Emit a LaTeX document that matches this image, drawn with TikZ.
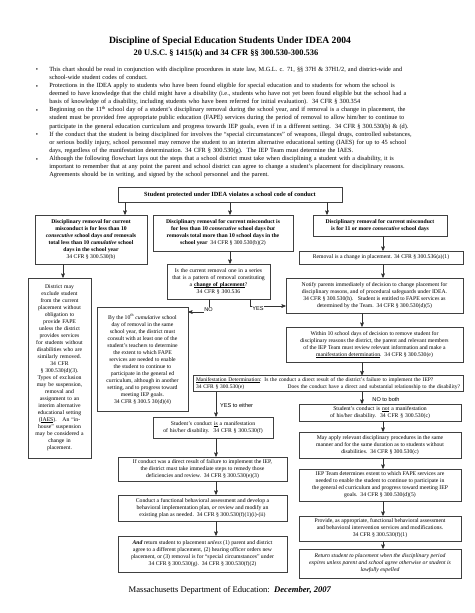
\documentclass[tikz,border=0pt]{standalone}
\usepackage{fontspec}
\setmainfont{Liberation Serif}
\newfontfamily\lblfont{Liberation Sans}
\usetikzlibrary{arrows}
\newcommand{\boxfont}{\fontsize{5.7}{7}\selectfont}
\newsavebox{\ulbox}
\newcommand{\ulin}[1]{\sbox{\ulbox}{#1}\rlap{\rule[-1.1pt]{\wd\ulbox}{0.4pt}}\usebox{\ulbox}}
\tikzset{
bx/.style={
  draw=black!75,
  line width=0.6pt,
  inner sep=0.5pt,
  align=center,
  font=\boxfont,
  fill=white
  },
lbl/.style={
  font=\lblfont\fontsize{5.6}{6}\selectfont,
  inner sep=0.8pt,
  fill=white
  }
}

\begin{document}
\begin{tikzpicture}[x=1pt,y=-1pt,->,>=stealth',line width=0.6pt,draw=black!80]
\useasboundingbox (0,0) rectangle (474,613);
% title and notes
\node (title) at (230,41) {\fontsize{9.6}{11}\selectfont\bfseries Discipline of Special Education Students Under IDEA 2004};
\node (subtitle) at (226,53) {\fontsize{8.4}{10}\selectfont\bfseries 20 U.S.C. § 1415(k) and 34 CFR §§ 300.530-300.536};
\node[anchor=north west,inner sep=0pt,text width=420pt,align=left,font=\fontsize{6.3}{8.12}\selectfont] (notes) at (49,66.5) {%
This chart should be read in conjunction with discipline procedures in state law, M.G.L. c. 71, §§ 37H \& 37H1/2, and district-wide and\\
school-wide student codes of conduct.\\
Protections in the IDEA apply to students who have been found eligible for special education and to students for whom the school is\\
deemed to have knowledge that the child might have a disability (i.e., students who have not yet been found eligible but the school had a\\
basis of knowledge of a disability, including students who have been referred for initial evaluation).\ \ 34 CFR § 300.354\\
Beginning on the 11\textsuperscript{th} school day of a student’s disciplinary removal during the school year, and if removal is a change in placement, the\\
student must be provided free appropriate public education (FAPE) services during the period of removal to allow him/her to continue to\\
participate in the general education curriculum and progress towards IEP goals, even if in a different setting.\ \ 34 CFR § 300.530(b) \& (d).\\
If the conduct that the student is being disciplined for involves the “special circumstances” of weapons, illegal drugs, controlled substances,\\
or serious bodily injury, school personnel may remove the student to an interim alternative educational setting (IAES) for up to 45 school\\
days, regardless of the manifestation determination. 34 CFR § 300.530(g).\ \ The IEP Team must determine the IAES.\\
Although the following flowchart lays out the steps that a school district must take when disciplining a student with a disability, it is\\
important to remember that at any point the parent and school district can agree to change a student’s placement for disciplinary reasons.\\
Agreements should be in writing, and signed by the school personnel and the parent.};
\foreach \i in {0,2,5,8,11}
  \node[font=\fontsize{6.3}{8}\selectfont] at (37,70.5+8.12*\i) {\textbullet};

% first row
\node[bx,minimum width=224pt,minimum height=15pt,font=\fontsize{6.3}{7}\selectfont\bfseries] (viol) at (230,194.5) {Student protected under IDEA violates a school code of conduct};
\node[bx,minimum width=112pt,minimum height=49pt,font=\boxfont\bfseries] (lessten) at (91,239.5) {Disciplinary removal for current\\ misconduct is for less than 10\\ \textit{consecutive} school days \textit{and} removals\\ total less than 10 \textit{cumulative} school\\ days in the school year\\ \mdseries 34 CFR § 300.530(b)};
\node[bx,minimum width=140pt,minimum height=36pt,font=\boxfont\bfseries] (moreten) at (223,233) {Disciplinary removal for current misconduct is\\ for less than 10 \textit{consecutive} school days \textit{but}\\ removals total more than 10 school days in the\\ school year\ \ {\mdseries 34 CFR § 300.530(b)(2)}};
\node[bx,minimum width=134pt,minimum height=21pt,font=\boxfont\bfseries] (eleven) at (380,225.5) {Disciplinary removal for current misconduct\\ is for 11 or more \textit{consecutive} school days};

% middle part
\node[bx,minimum width=164pt,minimum height=13pt] (change) at (381,257.5) {Removal is a change in placement. 34 CFR § 300.536(a)(1)};
\node[bx,text width=102pt,minimum height=35pt] (series) at (218.5,281.5) {Is the current removal one in a series\\ that is a pattern of removal constituting\\ a \ulin{\textbf{change of placement}}?\\ 34 CFR § 300.536};
\node[bx,minimum width=177pt,minimum height=35pt] (notify) at (374.5,295.5) {Notify parents immediately of decision to change placement for\\ disciplinary reasons, and of procedural safeguards under IDEA.\\ 34 CFR § 300.530(h).\ \ \ Student is entitled to FAPE services as\\ determined by the Team.\ \ 34 CFR § 300.530(d)(5)};
\node[bx,minimum width=177pt,minimum height=35pt] (within) at (374.5,344.5) {Within 10 school days of decision to remove student for\\ disciplinary reasons the district, the parent and relevant members\\ of the IEP Team must review relevant information and make a\\ \ulin{manifestation determination}.\ \ 34 CFR § 300.530(e)};
\node[bx,text width=62pt,minimum height=180pt] (exclude) at (59.5,368) {District may\\ exclude student\\ from the current\\ placement without\\ obligation to\\ provide FAPE\\ unless the district\\ provides services\\ for students without\\ disabilities who are\\ similarly removed.\\ 34 CFR\\ § 300.530(d)(3).\\ Types of exclusion\\ may be suspension,\\ removal and\\ assignment to an\\ interim alternative\\ educational setting\\ (\ulin{IAES}).\ \ \ An “in-\\ house” suspension\\ may be considered a\\ change in\\ placement.};
\node[bx,minimum width=91pt,minimum height=104pt] (tenth) at (142.5,359) {By the 10\textsuperscript{th} \textit{cumulative} school\\ day of removal in the same\\ school year, the district must\\ consult with at least one of the\\ student’s teachers to determine\\ the extent to which FAPE\\ services are needed to enable\\ the student to continue to\\ participate in the general ed\\ curriculum, although in another\\ setting, and to progress toward\\ meeting IEP goals.\\ 34 CFR § 300.5 30(d)(4)};
\node[bx,text width=264pt,minimum height=16pt,align=left,inner xsep=3pt,font=\fontsize{5.5}{6.8}\selectfont] (md) at (328,383.5) {\ulin{Manifestation Determination}: Is the conduct a direct result of the district’s failure to implement the IEP?\\ 34 CFR § 300.530(e)\hfill Does the conduct have a direct and substantial relationship to the disability?};

% left column
\node[bx,text width=119pt,minimum height=21pt] (manif) at (213,427.5) {Student’s conduct \ulin{is} a manifestation\\ of his/her disability.\ \ 34 CFR § 300.530(f)};
\node[bx,minimum width=169pt,minimum height=24pt] (remedy) at (202.5,469) {If conduct was a direct result of failure to implement the IEP,\\ the district must take immediate steps to remedy those\\ deficiencies and review.\ \ 34 CFR § 300.530(e)(3)};
\node[bx,minimum width=169pt,minimum height=26pt] (fba) at (202.5,508) {Conduct a functional behavioral assessment and develop a\\ behavioral implementation plan, \textit{or} review and modify an\\ existing plan as needed.\ \ 34 CFR § 300.530(f)(1)(i)-(ii)};
\node[bx,minimum width=169pt,minimum height=36pt] (back) at (202.5,554) {\textbf{\textit{And}} return student to placement \textit{unless} (1) parent and district\\ agree to a different placement, (2) hearing officer orders new\\ placement, or (3) removal is for “special circumstances” under\\ 34 CFR § 300.530(g).\ \ 34 CFR § 300.530(f)(2)};

% right column
\node[bx,text width=161pt,minimum height=17pt] (notman) at (380,412.5) {Student’s conduct is \ulin{not} a manifestation\\ of his/her disability.\ \ 34 CFR § 300.530(c)};
\node[bx,minimum width=162pt,minimum height=26pt] (apply) at (380,445) {May apply relevant disciplinary procedures in the same\\ manner and for the same duration as to students without\\ disabilities.\ \ 34 CFR § 300.530(c)};
\node[bx,minimum width=162pt,minimum height=32pt] (extent) at (380,485) {IEP Team determines extent to which FAPE services are\\ needed to enable the student to continue to participate in\\ the general ed curriculum and progress toward meeting IEP\\ goals.\ \ 34 CFR § 300.530(d)(5)};
\node[bx,minimum width=162pt,minimum height=25pt] (provide) at (380,528.5) {Provide, as appropriate, functional behavioral assessment\\ and behavioral intervention services and modifications.\\ 34 CFR § 300.530(f)(1)};
\node[bx,minimum width=162pt,minimum height=29pt,font=\boxfont\itshape] (expire) at (380,563.5) {Return student to placement when the disciplinary period\\ expires unless parent and school agree otherwise or student is\\ lawfully expelled};

\node (footer) at (230,590) {\fontsize{8.6}{10}\selectfont Massachusetts Department of Education:\ \ \textbf{\textit{December, 2007}}};

% connectors
\draw (viol.south -| 125,0) -- (lessten.north -| 125,0);
\draw (viol.south -| 230,0) -- (moreten.north -| 230,0);
\draw (viol.south -| 327,0) -- (eleven.north -| 327,0);
\draw (lessten.south -| 63,0) -- (exclude.north -| 63,0);
\draw (moreten.south -| 230,0) -- (series.north -| 230,0);
\draw (eleven.south -| 383,0) -- (change.north -| 383,0);
\draw (change.south -| 383,0) -- (notify.north -| 383,0);
\draw (notify.south -| 362,0) -- (within.north -| 362,0);
\draw (within.south -| 362,0) -- (md.north -| 362,0);
\draw (series.south -| 209,0) |- (tenth.east |- 0,312);
\node[lbl] (no) at (208.5,310) {NO};
\draw (series.south -| 250,0) |- (notify.west |- 0,306);
\node[lbl] (yes) at (258,309) {YES};
\draw (md.south -| 216,0) -- (manif.north -| 216,0);
\node[lbl,anchor=west,fill=none] (yeseither) at (219,405) {YES to either};
\draw (md.south -| 362,0) -- (notman.north -| 362,0);
\node[lbl,fill=none] (noboth) at (386,399) {NO to both};
\foreach \a/\b in {manif/remedy,remedy/fba,fba/back}
  \draw (\a.south -| 216,0) -- (\b.north -| 216,0);
\foreach \a/\b in {notman/apply,apply/extent,extent/provide,provide/expire}
  \draw (\a.south -| 383,0) -- (\b.north -| 383,0);
\end{tikzpicture}
\end{document}
